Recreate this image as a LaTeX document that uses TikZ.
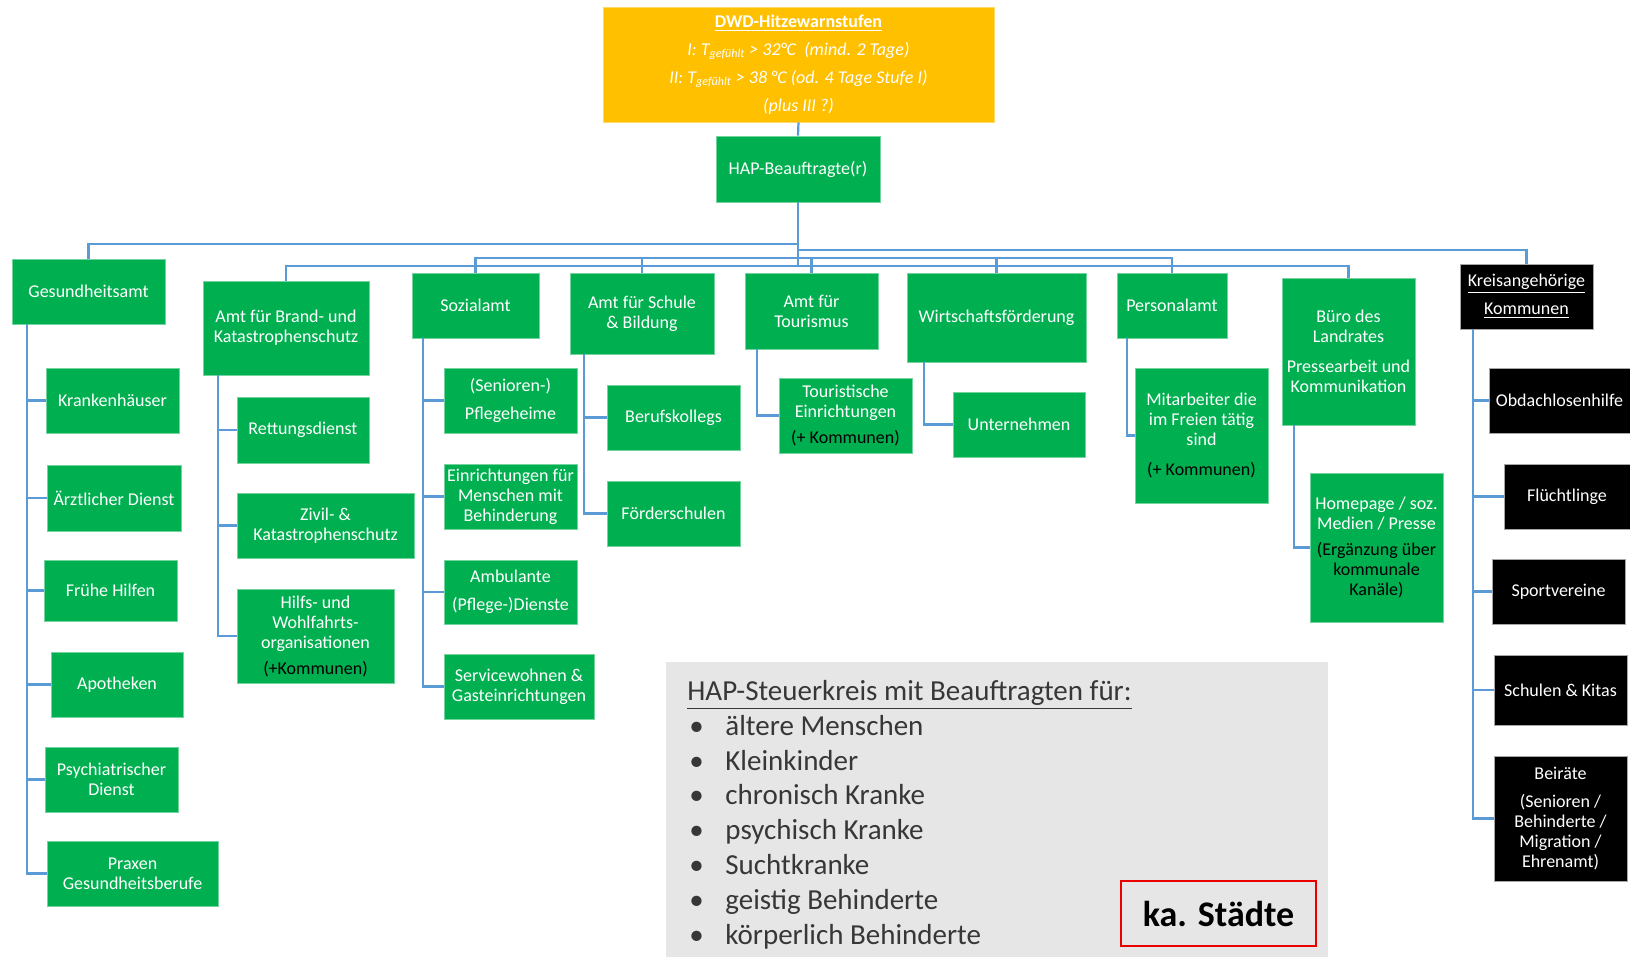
\documentclass[tikz,border=0pt]{standalone}
\usepackage{fontspec}
\setmainfont{Carlito}
\usepackage{tikz}
\definecolor{hapgreen}{RGB}{0,176,80}
\definecolor{hapyellow}{RGB}{255,192,0}
\definecolor{hapblue}{RGB}{91,155,213}
\definecolor{hapgrey}{RGB}{230,230,230}
\definecolor{haptext}{RGB}{55,55,55}
\definecolor{hapred}{RGB}{235,0,0}
\tikzset{
	wh/.style 2 args={minimum width=#1*0.5pt,minimum height=#2*0.5pt},
	orgbox/.style={rectangle,inner sep=1pt,align=center,text=white,font=\fontsize{9}{10}\selectfont},
	greenbox/.style={orgbox,fill=hapgreen,draw=hapgreen!55!white,line width=0.4pt},
	blackbox/.style={orgbox,fill=black,draw=gray!70,line width=0.4pt},
	conn/.style={draw=hapblue,line width=1.1pt},
}

\begin{document}
\begin{tikzpicture}[x=0.5pt,y=-0.5pt]
			\useasboundingbox (0,0) rectangle (1630,957);
			
			\node[orgbox, wh={391}{115}, fill=hapyellow, draw=hapyellow!60!white, font=\itshape\fontsize{9}{14}\selectfont] (warn) at (798.5,64.5) {\upshape\textbf{\underline{DWD-Hitzewarnstufen}}\\I: T\textsubscript{gefühlt} > 32°C\ \ (mind. 2 Tage)\\II: T\textsubscript{gefühlt} > 38 °C (od. 4 Tage Stufe I)\\(plus III ?)};
			\node[greenbox, wh={164}{66}] (hap) at (798,169) {HAP-Beauftragte(r)};
			
			\node[greenbox, wh={153}{65}] (ges) at (88.5,291.5) {Gesundheitsamt};
			\node[greenbox, wh={133}{65}] (kh) at (112.5,400.5) {Krankenhäuser};
			\node[greenbox, wh={134}{66}] (aerzt) at (114,498) {Ärztlicher Dienst};
			\node[greenbox, wh={133}{61}] (fruehe) at (110.5,590.5) {Frühe Hilfen};
			\node[greenbox, wh={132}{65}] (apo) at (117,684.5) {Apotheken};
			\node[greenbox, wh={133}{65}] (psych) at (111.5,779.5) {Psychiatrischer\\Dienst};
			\node[greenbox, wh={171}{65}] (praxen) at (132.5,873.5) {Praxen\\Gesundheitsberufe};
			
			\node[greenbox, wh={166}{94}] (brand) at (286,328) {Amt für Brand- und\\Katastrophenschutz};
			\node[greenbox, wh={132}{66}] (rettung) at (303,430) {Rettungsdienst};
			\node[greenbox, wh={177}{65}] (zivil) at (325.5,525.5) {Zivil- \&\\Katastrophenschutz};
			\node[greenbox, wh={157}{94}] (hilfs) at (315.5,636) {Hilfs- und\\Wohlfahrts-\\organisationen\\[3pt]\textcolor{black}{(+Kommunen)}};
			
			\node[greenbox, wh={127}{65}] (sozial) at (475.5,305.5) {Sozialamt};
			\node[greenbox, wh={133}{65}] (pflege) at (510.5,400.5) {(Senioren-)\\[4pt]Pflegeheime};
			\node[greenbox, wh={133}{65}] (einr) at (510.5,496.5) {Einrichtungen für\\Menschen mit\\Behinderung};
			\node[greenbox, wh={133}{64}] (ambul) at (510.5,592) {Ambulante\\[4pt](Pflege-)Dienste};
			\node[greenbox, wh={150}{65}] (service) at (519,686.5) {Servicewohnen \&\\Gasteinrichtungen};
			
			\node[greenbox, wh={144}{81}] (schule) at (642,313.5) {Amt für Schule\\\& Bildung};
			\node[greenbox, wh={133}{65}] (beruf) at (673.5,417.5) {Berufskollegs};
			\node[greenbox, wh={133}{65}] (foerder) at (673.5,513.5) {Förderschulen};
			
			\node[greenbox, wh={133}{76}] (tour) at (811.5,311) {Amt für\\Tourismus};
			\node[greenbox, wh={133}{75}] (toureinr) at (845.5,415.5) {Touristische\\Einrichtungen\\[3pt]\textcolor{black}{(+ Kommunen)}};
			
			\node[greenbox, wh={179}{89}] (wirt) at (996.5,317.5) {Wirtschaftsförderung};
			\node[greenbox, wh={132}{65}] (untern) at (1019,424.5) {Unternehmen};
			
			\node[greenbox, wh={110}{65}] (pers) at (1172,305.5) {Personalamt};
			\node[greenbox, wh={133}{135}] (mitarb) at (1201.5,435.5) {Mitarbeiter die\\im Freien tätig\\sind\\[5pt]\textcolor{black}{(+ Kommunen)}};
			
			\node[greenbox, wh={133}{147}] (buero) at (1348.5,351.5) {Büro des\\Landrates\\[5pt]Pressearbeit und\\Kommunikation};
			\node[greenbox, wh={133}{149}] (homepage) at (1376.5,547.5) {Homepage / soz.\\Medien / Presse\\[3pt]\textcolor{black}{(Ergänzung über}\\\textcolor{black}{kommunale}\\\textcolor{black}{Kanäle)}};
			
			\node[blackbox, wh={133}{65}] (kreis) at (1526.5,296.5) {\underline{Kreisangehörige}\\[4pt]\underline{Kommunen}};
			\node[blackbox, wh={141}{65}] (obdach) at (1559.5,400.5) {Obdachlosenhilfe};
			\node[blackbox, wh={126}{65}] (fluecht) at (1567,496.5) {Flüchtlinge};
			\node[blackbox, wh={133}{65}] (sport) at (1558.5,591.5) {Sportvereine};
			\node[blackbox, wh={133}{70}] (kitas) at (1560.5,690) {Schulen \& Kitas};
			\node[blackbox, wh={133}{125}] (beirat) at (1560.5,818.5) {Beiräte\\[4pt](Senioren /\\Behinderte /\\Migration /\\Ehrenamt)};
			
			\coordinate (busA) at (0,244);
			\coordinate (busB) at (0,250);
			\coordinate (busC) at (0,258);
			\coordinate (busD) at (0,266);
			\path[conn] (warn.south) -- (hap.north);
			\path[conn] (hap.south) -- (hap.south |- busD);
			\path[conn] (hap.south |- busA) -| (ges.north);
			\path[conn] (hap.south |- busB) -| (kreis.north);
			\path[conn] (hap.south |- busC) -| (sozial.north) (hap.south |- busC) -| (schule.north) (hap.south |- busC) -| (tour.north);
			\path[conn] (hap.south |- busC) -| (wirt.north) (hap.south |- busC) -| (pers.north);
			\path[conn] (hap.south |- busD) -| (brand.north) (hap.south |- busD) -| (buero.north);
			
			\path[conn] ([xshift=7.5pt]ges.south west) |- (kh.west) ([xshift=7.5pt]ges.south west) |- (aerzt.west) ([xshift=7.5pt]ges.south west) |- (fruehe.west);
			\path[conn] ([xshift=7.5pt]ges.south west) |- (apo.west) ([xshift=7.5pt]ges.south west) |- (psych.west) ([xshift=7.5pt]ges.south west) |- (praxen.west);
			\path[conn] ([xshift=7.5pt]brand.south west) |- (rettung.west) ([xshift=7.5pt]brand.south west) |- (zivil.west) ([xshift=7.5pt]brand.south west) |- (hilfs.west);
			\path[conn] ([xshift=5.5pt]sozial.south west) |- (pflege.west) ([xshift=5.5pt]sozial.south west) |- (einr.west) ([xshift=5.5pt]sozial.south west) |- (ambul.west) ([xshift=5.5pt]sozial.south west) |- (service.west);
			\path[conn] ([xshift=7pt]schule.south west) |- (beruf.west) ([xshift=7pt]schule.south west) |- (foerder.west);
			\path[conn] ([xshift=6pt]tour.south west) |- (toureinr.west);
			\path[conn] ([xshift=8.5pt]wirt.south west) |- (untern.west);
			\path[conn] ([xshift=5pt]pers.south west) |- (mitarb.west);
			\path[conn] ([xshift=6pt]buero.south west) |- (homepage.west);
			\path[conn] ([xshift=6.5pt]kreis.south west) |- (obdach.west) ([xshift=6.5pt]kreis.south west) |- (fluecht.west) ([xshift=6.5pt]kreis.south west) |- (sport.west);
			\path[conn] ([xshift=6.5pt]kreis.south west) |- (kitas.west) ([xshift=6.5pt]kreis.south west) |- (beirat.west);
			
			\node[fill=hapgrey, minimum width=331pt, minimum height=147.5pt, anchor=north west, inner sep=0pt] (panel) at (666,662) {};
			\node[anchor=north west, inner sep=0pt, align=left, text=haptext, font=\fontsize{14.5}{17.4}\selectfont] (steuer) at (687,680) {\underline{HAP-Steuerkreis mit Beauftragten für:}\\\makebox[19pt][l]{\hspace{1pt}\textbullet}ältere Menschen\\\makebox[19pt][l]{\hspace{1pt}\textbullet}Kleinkinder\\\makebox[19pt][l]{\hspace{1pt}\textbullet}chronisch Kranke\\\makebox[19pt][l]{\hspace{1pt}\textbullet}psychisch Kranke\\\makebox[19pt][l]{\hspace{1pt}\textbullet}Suchtkranke\\\makebox[19pt][l]{\hspace{1pt}\textbullet}geistig Behinderte\\\makebox[19pt][l]{\hspace{1pt}\textbullet}körperlich Behinderte};
			\node[draw=hapred, line width=0.8pt, wh={195}{65}, inner sep=0pt, font=\bfseries\fontsize{18}{20}\selectfont] (staedte) at (1218.5,913.5) {ka. Städte};
		\end{tikzpicture}
\end{document}
